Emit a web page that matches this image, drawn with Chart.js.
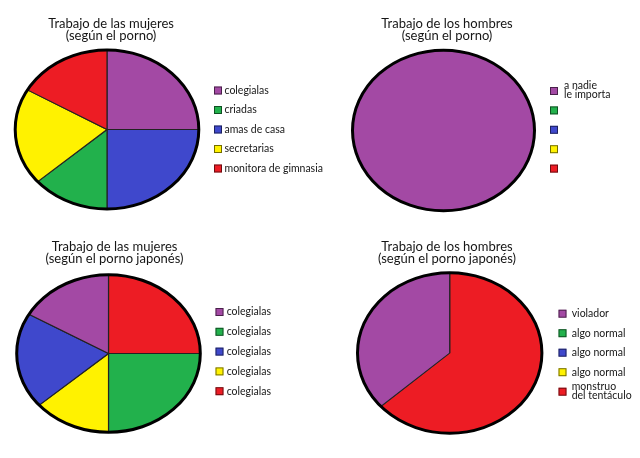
<!DOCTYPE html>
<html>
<head>
<meta charset="utf-8">
<script src="https://cdn.jsdelivr.net/npm/chart.js@4.4.1/dist/chart.umd.min.js"></script>
<style>
  body { margin: 0; background: #fff; }
  #wrap { position: relative; width: 640px; height: 458px; overflow: hidden; }
  canvas { position: absolute; }
</style>
</head>
<body>
<div id="wrap">
  <canvas id="pie-tl" width="330" height="229" style="left:0;top:0"></canvas>
  <canvas id="pie-tr" width="320" height="229" style="left:320px;top:0"></canvas>
  <canvas id="pie-bl" width="330" height="229" style="left:0;top:229px"></canvas>
  <canvas id="pie-br" width="320" height="229" style="left:320px;top:229px"></canvas>
</div>
<script>
var PURPLE = '#a349a4', GREEN = '#22b14c', BLUE = '#3f48cc', YELLOW = '#fff200', RED = '#ed1c24';

// legend order; values are % of the pie, drawOrder = clockwise from 12 o'clock
var titleTL = ['Trabajo de las mujeres', '(según el porno)'];
var labelsTL = ['colegialas', 'criadas', 'amas de casa', 'secretarias', 'monitora de gimnasia'];
var colorsTL = [PURPLE, GREEN, BLUE, YELLOW, RED];
var valuesTL = [25, 13.6, 25, 19.7, 16.7];
var drawOrderTL = [0, 2, 1, 3, 4];

var titleTR = ['Trabajo de los hombres', '(según el porno)'];
var labelsTR = [['a nadie', 'le importa'], '', '', '', ''];
var colorsTR = [PURPLE, GREEN, BLUE, YELLOW, RED];
var valuesTR = [100, 0, 0, 0, 0];
var drawOrderTR = [0, 1, 2, 3, 4];

var titleBL = ['Trabajo de las mujeres', '(según el porno japonés)'];
var labelsBL = ['colegialas', 'colegialas', 'colegialas', 'colegialas', 'colegialas'];
var colorsBL = [PURPLE, GREEN, BLUE, YELLOW, RED];
var valuesBL = [16.7, 25, 19.7, 13.6, 25];
var drawOrderBL = [4, 1, 3, 2, 0];

var titleBR = ['Trabajo de los hombres', '(según el porno japonés)'];
var labelsBR = ['violador', 'algo normal', 'algo normal', 'algo normal', ['monstruo', 'del tentáculo']];
var colorsBR = [PURPLE, GREEN, BLUE, YELLOW, RED];
var valuesBR = [36.6, 0, 0, 0, 63.4];
var drawOrderBR = [4, 0, 1, 2, 3];

var FONT = 'Lato, "Open Sans", sans-serif';

// squashes the round pie into the ellipse of the drawing and puts the legend next to it
var ovalPie = {
  id: 'ovalPie',
  beforeDatasetsDraw: function(chart, args, o) {
    var arc = chart.getDatasetMeta(0).data[0];
    var ctx = chart.ctx;
    ctx.save();
    ctx.translate(o.cx, o.cy);
    ctx.scale(o.rx / o.ry, 1);
    ctx.translate(-arc.x, -arc.y);
  },
  afterDatasetsDraw: function(chart, args, o) {
    var ctx = chart.ctx;
    ctx.restore();
    ctx.save();
    ctx.lineWidth = 3;
    ctx.strokeStyle = '#000';
    ctx.beginPath();
    ctx.ellipse(o.cx, o.cy, o.rx, o.ry, 0, 0, Math.PI * 2);
    ctx.stroke();
    ctx.restore();
  },
  afterDraw: function(chart, args, o) {
    var ctx = chart.ctx, lg = o.legend;
    ctx.save();
    ctx.font = '10.5px ' + FONT;
    ctx.textBaseline = 'middle';
    lg.labels.forEach(function(txt, i) {
      var y = lg.y + i * lg.step;
      ctx.fillStyle = lg.colors[i];
      ctx.fillRect(lg.x, y, 8, 8);
      ctx.strokeStyle = 'rgba(0,0,0,0.55)';
      ctx.lineWidth = 1;
      ctx.strokeRect(lg.x + 0.5, y + 0.5, 7, 7);
      ctx.fillStyle = '#161616';
      var lines = Array.isArray(txt) ? txt : [txt];
      var top = y + 4 - (lines.length - 1) * 5;
      lines.forEach(function(line, k) {
        ctx.fillText(line, lg.textX, top + k * 8.8);
      });
    });
    ctx.restore();
  }
};

function makePie(id, title, labels, colors, values, order, pos) {
  var nonZero = values.filter(function(v) { return v > 0; }).length;
  var dsLabels = order.map(function(i) { return labels[i]; });
  var dsValues = order.map(function(i) { return values[i]; });
  var dsColors = order.map(function(i) { return colors[i]; });
  var dsBorders = dsValues.map(function(v) { return (v > 0 && nonZero > 1) ? 1 : 0; });
  return new Chart(document.getElementById(id), {
    type: 'pie',
    data: {
      labels: dsLabels,
      datasets: [{ data: dsValues, backgroundColor: dsColors, borderColor: '#222', borderWidth: dsBorders, radius: pos.ry }]
    },
    options: {
      responsive: false, animation: false, events: [],
      layout: { padding: { left: 0, right: pos.titleRight, top: 0, bottom: 0 } },
      plugins: {
        legend: { display: false },
        tooltip: { enabled: false },
        title: {
          display: true, text: title, color: '#161616',
          font: { family: FONT, size: 13, weight: 'normal', lineHeight: 0.93 },
          padding: { top: pos.titleTop, bottom: 4 }
        },
        ovalPie: {
          cx: pos.cx, cy: pos.cy, rx: pos.rx, ry: pos.ry,
          legend: { labels: labels, colors: colors, x: pos.boxX, y: pos.boxY, step: pos.step, textX: pos.textX }
        }
      }
    },
    plugins: [ovalPie]
  });
}

makePie('pie-tl', titleTL, labelsTL, colorsTL, valuesTL, drawOrderTL,
  { cx: 107, cy: 129.5, rx: 91.8, ry: 79.5, titleRight: 108, titleTop: 18, boxX: 214, boxY: 86.5, step: 19.5, textX: 224.5 });
makePie('pie-tr', titleTR, labelsTR, colorsTR, valuesTR, drawOrderTR,
  { cx: 123.5, cy: 130.5, rx: 91, ry: 80.3, titleRight: 66, titleTop: 18, boxX: 230, boxY: 87, step: 19.4, textX: 244 });
makePie('pie-bl', titleBL, labelsBL, colorsBL, valuesBL, drawOrderBL,
  { cx: 108.5, cy: 124.5, rx: 91.8, ry: 78.8, titleRight: 101, titleTop: 12, boxX: 215.5, boxY: 79, step: 19.8, textX: 226.7 });
makePie('pie-br', titleBR, labelsBR, colorsBR, valuesBR, drawOrderBR,
  { cx: 129.7, cy: 124, rx: 92.2, ry: 80.2, titleRight: 66, titleTop: 12, boxX: 238.5, boxY: 80.7, step: 19.5, textX: 251.7 });
</script>
</body>
</html>
